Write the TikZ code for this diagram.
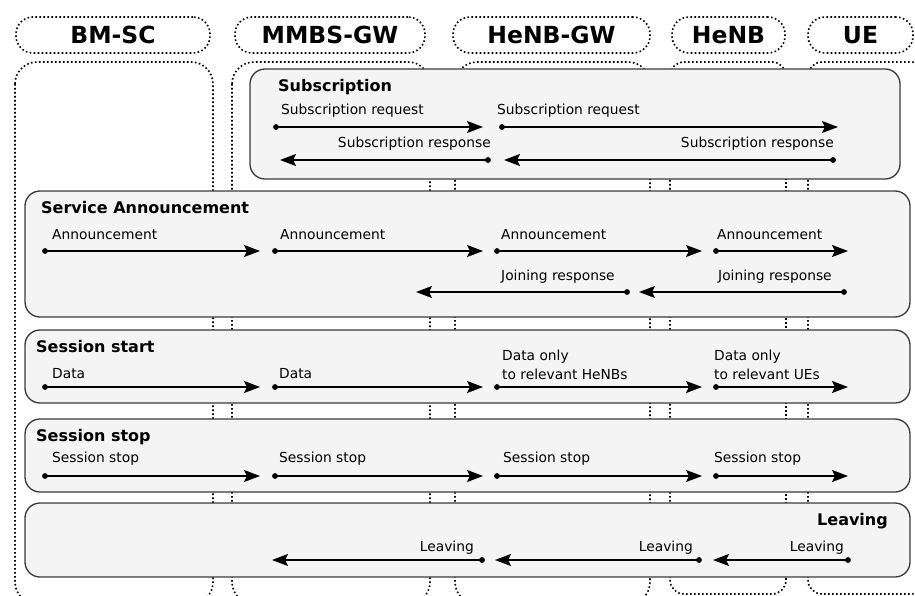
\documentclass[tikz,border=0pt]{standalone}
\usepackage{fontspec}
\setmainfont{DejaVu Sans}
\usetikzlibrary{arrows.meta}

\definecolor{phasefill}{HTML}{F4F4F4}
\definecolor{phaseedge}{HTML}{3A3A3A}

\tikzset{
  dotline/.style={line width=1.6pt, dash pattern=on 1.6pt off 2.4pt},
  hdr/.style={dotline, draw, rounded corners=17pt, minimum height=36pt, inner sep=0pt,
              font=\fontsize{23.5}{28}\selectfont\bfseries},
  lane/.style={dotline, rounded corners=#1},
  phase/.style={draw=phaseedge, fill=phasefill, line width=1.3pt, rounded corners=15pt},
  phasetitle/.style={inner sep=0pt, font=\fontsize{16}{19}\selectfont\bfseries},
  lbl/.style={inner sep=0pt, font=\fontsize{13.8}{19}\selectfont},
  srcdot/.style={circle, fill=black, inner sep=0pt, minimum size=5.8pt},
  msgline/.style={line width=1.5pt, -{Stealth[length=16pt, width=12pt, inset=3pt]}}
}

% one message: dot at the sender, arrow head at the receiver
\newcommand\sendmsg[4]{%
  \node[srcdot] (#1-s) at (#2,#4) {};
  \coordinate (#1-t) at (#3,#4);
  \draw[msgline] (#1-s.center) -- (#1-t);
}

\begin{document}
\begin{tikzpicture}[x=1pt, y=-1pt]
\useasboundingbox (0,0) rectangle (915,596);

% entity headers
\node[hdr, minimum width=194pt] (bmsc) at (113,35) {BM-SC};
\node[hdr, minimum width=190pt] (mmbs) at (330,35) {MMBS-GW};
\node[hdr, minimum width=197pt] (henbgw) at (551.5,35) {HeNB-GW};
\node[hdr, minimum width=113pt] (henb) at (728.5,35) {HeNB};
\node[hdr, minimum width=105pt] (ue) at (860.5,35) {UE};

% lifeline lanes
\draw[lane=22pt] (15,62) rectangle (213,604);
\draw[lane=22pt] (232,62) rectangle (430,604);
\draw[lane=22pt] (455,62) rectangle (650,604);
\draw[lane=14pt] (670,62) rectangle (786,594);
\draw[lane=14pt] (808,62) rectangle (925,594);

% phase panels
\draw[phase] (250,69) rectangle (900,179);
\draw[phase] (25,191) rectangle (910,317);
\draw[phase] (25,330) rectangle (910,403);
\draw[phase] (25,419) rectangle (910,492);
\draw[phase] (25,503) rectangle (910,577);

% Subscription
\node[phasetitle, anchor=base west] (tsub) at (278,92) {Subscription};
\node[lbl, anchor=base west] (lsr1) at (281,115) {Subscription request};
\node[lbl, anchor=base west] (lsr2) at (497,115) {Subscription request};
\node[lbl, anchor=base east] (lsp1) at (491,148) {Subscription response};
\node[lbl, anchor=base east] (lsp2) at (834,148) {Subscription response};
\sendmsg{sr1}{276}{483}{127}
\sendmsg{sr2}{502}{838}{127}
\sendmsg{sp1}{488}{280}{160}
\sendmsg{sp2}{833}{504}{160}

% Service Announcement
\node[phasetitle, anchor=base west] (tsa) at (41,214) {Service Announcement};
\node[lbl, anchor=base west] (la1) at (52,239) {Announcement};
\node[lbl, anchor=base west] (la2) at (280,239) {Announcement};
\node[lbl, anchor=base west] (la3) at (501,239) {Announcement};
\node[lbl, anchor=base west] (la4) at (717,239) {Announcement};
\node[lbl, anchor=base west] (lj1) at (501,280) {Joining response};
\node[lbl, anchor=base west] (lj2) at (718,280) {Joining response};
\sendmsg{an1}{45}{260}{251}
\sendmsg{an2}{275}{483}{251}
\sendmsg{an3}{497}{702}{251}
\sendmsg{an4}{716}{848}{251}
\sendmsg{jr1}{627}{416}{292}
\sendmsg{jr2}{844}{639}{292}

% Session start
\node[phasetitle, anchor=base west] (tst) at (36,352) {Session start};
\node[lbl, anchor=base west] (ld1) at (52,378) {Data};
\node[lbl, anchor=base west] (ld2) at (279,378) {Data};
\node[lbl, anchor=north west, align=left] (ld3) at (502,349.5) {Data only\\to relevant HeNBs};
\node[lbl, anchor=north west, align=left] (ld4) at (714,349.5) {Data only\\to relevant UEs};
\sendmsg{da1}{45}{260}{387}
\sendmsg{da2}{275}{483}{387}
\sendmsg{da3}{497}{702}{387}
\sendmsg{da4}{716}{848}{387}

% Session stop
\node[phasetitle, anchor=base west] (tsp) at (36,441) {Session stop};
\node[lbl, anchor=base west] (ls1) at (52,462) {Session stop};
\node[lbl, anchor=base west] (ls2) at (279,462) {Session stop};
\node[lbl, anchor=base west] (ls3) at (503,462) {Session stop};
\node[lbl, anchor=base west] (ls4) at (714,462) {Session stop};
\sendmsg{ss1}{45}{260}{476}
\sendmsg{ss2}{275}{483}{476}
\sendmsg{ss3}{497}{702}{476}
\sendmsg{ss4}{716}{848}{476}

% Leaving
\node[phasetitle, anchor=base east] (tlv) at (888,525) {Leaving};
\node[lbl, anchor=base east] (ll1) at (474,551) {Leaving};
\node[lbl, anchor=base east] (ll2) at (693,551) {Leaving};
\node[lbl, anchor=base east] (ll3) at (844,551) {Leaving};
\sendmsg{lv1}{848}{713}{560}
\sendmsg{lv2}{699}{495}{560}
\sendmsg{lv3}{482}{272}{560}
\end{tikzpicture}
\end{document}
